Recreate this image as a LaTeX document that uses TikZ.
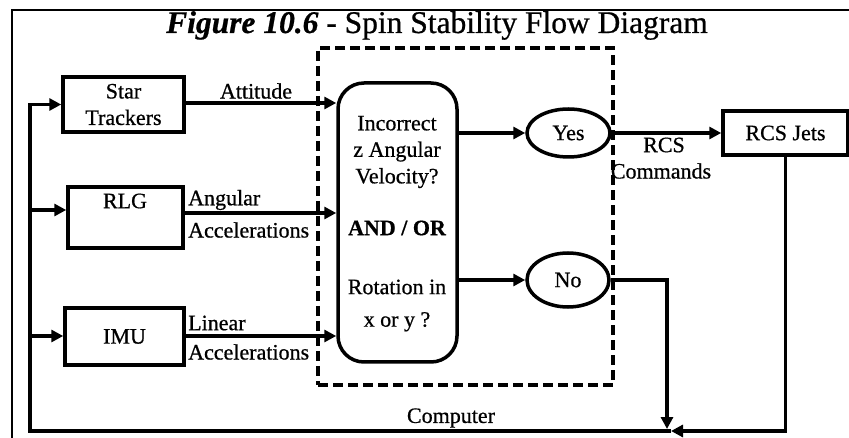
\documentclass[tikz,border=0pt]{standalone}
\usepackage{fontspec}
\setmainfont{Liberation Serif}[FakeBold=0.7]
\usetikzlibrary{arrows.meta,shapes.geometric}
\begin{document}
\begin{tikzpicture}[x=1pt,y=-1pt,
  box/.style={draw,line width=3.5pt,inner sep=0pt,font=\fontsize{22}{26.5}\selectfont,align=center},
  conn/.style={line width=3.5pt,-{Triangle[length=12pt,width=12pt]}},
  lbl/.style={font=\fontsize{22}{26.5}\selectfont,inner sep=0pt,align=center},
  lbll/.style={font=\fontsize{22}{26.5}\selectfont,inner sep=0pt,anchor=west},
]
\useasboundingbox (0,0) rectangle (849,438);
% frame
\draw[line width=2pt] (12,438) -- (12,10) -- (849,10);
% title
\node[inner sep=0pt,anchor=base] (title) at (437,33)
  {\fontsize{31.5}{33}\selectfont\textbf{\textit{Figure 10.6}} - Spin Stability Flow Diagram};
% dashed group
\node[draw,line width=3.5pt,dash pattern=on 10pt off 5pt,minimum width=295pt,minimum height=337pt,inner sep=0pt] (grp) at (465.5,216.5) {};
% sensor boxes
\node[box,minimum width=121pt,minimum height=55pt] (st) at (123.5,104.5) {Star\\Trackers};
\node[box,minimum width=115pt,minimum height=61pt] (rlg) at (125.5,217.5) {};
\node[lbl] (rlgt) at (125,201) {RLG};
\node[box,minimum width=119pt,minimum height=57pt] (imu) at (124.5,336.5) {IMU};
% decision
\node[box,rounded corners=26pt,minimum width=119pt,minimum height=279pt] (dec) at (397.5,222.5) {};
\node[lbl] (q1) at (397,152) {Incorrect\\z Angular\\Velocity?};
\node[lbl,font=\fontsize{22}{26.5}\selectfont\bfseries] (andor) at (397,228) {AND / OR};
\node[lbl] (q2) at (397,305.5) {Rotation in\\[6pt]x or y ?};
% outcomes
\node[box,ellipse,minimum width=83pt,minimum height=48pt] (yes) at (568.5,133) {Yes};
\node[box,ellipse,minimum width=82pt,minimum height=54pt] (no) at (568,280) {No};
\node[box,minimum width=125pt,minimum height=44pt] (rcs) at (785.5,133) {RCS Jets};
% coordinates
\coordinate (a1) at (184,103);
\coordinate (a2) at (183,213);
\coordinate (a3) at (184,336);
\coordinate (b2) at (30,210);
\coordinate (b3) at (30,336);
\coordinate (bl) at (30,431);
\coordinate (jd) at (667,429);
\coordinate (jl) at (671,431);
% connectors
\draw[conn] (a1) -- (a1 -| dec.west);
\draw[conn] (a2) -- (a2 -| dec.west);
\draw[conn] (a3) -- (a3 -| dec.west);
\draw[conn] (dec.east |- yes.west) -- (yes.west);
\draw[conn] (dec.east |- no.west) -- (no.west);
\draw[conn] (yes.east) -- (yes.east -| rcs.west);
\draw[conn] (no.east) -| (jd);
\draw[conn] (rcs.south) |- (jl);
\draw[conn] (jl) -- (bl) |- (st.west);
\draw[conn] (b2) -- (b2 -| rlg.west);
\draw[conn] (b3) -- (b3 -| imu.west);
% labels
\node[lbl] (latt) at (256,91) {Attitude};
\node[lbll] (lang1) at (188,200) {Angular};
\node[lbll] (lang2) at (188,230) {Accelerations};
\node[lbll] (llin1) at (188,323) {Linear};
\node[lbll] (llin2) at (188,352) {Accelerations};
\node[lbl] (lrcs1) at (664,145) {RCS};
\node[lbl] (lrcs2) at (661,171) {Commands};
\node[lbl] (lcomp) at (451,418) {Computer};
\end{tikzpicture}
\end{document}
